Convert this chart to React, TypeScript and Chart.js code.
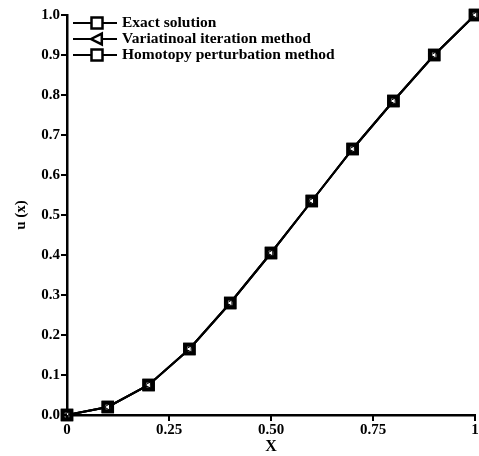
import React, { useEffect, useRef } from "react";
import { Chart, registerables } from "chart.js";

Chart.register(...registerables);

const xValues = [0, 0.1, 0.2, 0.3, 0.4, 0.5, 0.6, 0.7, 0.8, 0.9, 1.0];
const exactSolution = [0, 0.02, 0.075, 0.165, 0.28, 0.405, 0.535, 0.665, 0.785, 0.9, 1.0];
const vimValues = [0, 0.02, 0.075, 0.165, 0.28, 0.405, 0.535, 0.665, 0.785, 0.9, 1.0];
const hpmValues = [0, 0.02, 0.075, 0.165, 0.28, 0.405, 0.535, 0.665, 0.785, 0.9, 1.0];
const seriesLabels = ["Exact solution", "Variatinoal iteration method", "Homotopy perturbation method"];
const xTickLabels: Record<string, string> = { "0": "0", "0.25": "0.25", "0.5": "0.50", "0.75": "0.75", "1": "1" };

const FONT = "'Liberation Serif', 'DejaVu Serif', serif";

function drawSquare(ctx: CanvasRenderingContext2D, x: number, y: number, r: number) {
  ctx.save();
  ctx.fillStyle = "#fff";
  ctx.strokeStyle = "#000";
  ctx.lineWidth = 2.5;
  ctx.fillRect(x - r, y - r, 2 * r, 2 * r);
  ctx.strokeRect(x - r, y - r, 2 * r, 2 * r);
  ctx.restore();
}

function drawTriangle(ctx: CanvasRenderingContext2D, x: number, y: number, r: number) {
  ctx.save();
  ctx.fillStyle = "#fff";
  ctx.strokeStyle = "#000";
  ctx.lineWidth = 2.5;
  ctx.beginPath();
  ctx.moveTo(x - r, y);
  ctx.lineTo(x + r * 0.8, y - r * 0.9);
  ctx.lineTo(x + r * 0.8, y + r * 0.9);
  ctx.closePath();
  ctx.fill();
  ctx.stroke();
  ctx.restore();
}

const legendPlugin = {
  id: "customLegend",
  afterDraw(chart: any) {
    const ctx = chart.ctx as CanvasRenderingContext2D;
    const rows = [23, 39, 55];
    const kinds = ["square", "triangle", "square"];
    ctx.save();
    rows.forEach((y, i) => {
      ctx.strokeStyle = "#000";
      ctx.lineWidth = 2;
      ctx.beginPath();
      ctx.moveTo(73, y);
      ctx.lineTo(117, y);
      ctx.stroke();
      if (kinds[i] === "square") drawSquare(ctx, 97, y, 5.5);
      else drawTriangle(ctx, 97, y, 6);
      ctx.fillStyle = "#000";
      ctx.font = `bold 15.5px ${FONT}`;
      ctx.textAlign = "left";
      ctx.textBaseline = "middle";
      ctx.fillText(seriesLabels[i], 122, y);
    });
    ctx.restore();
  },
};

const tickMarksPlugin = {
  id: "tickMarks",
  afterDraw(chart: any) {
    const ctx = chart.ctx as CanvasRenderingContext2D;
    const xs = chart.scales.x;
    const ys = chart.scales.y;
    ctx.save();
    ctx.strokeStyle = "#000";
    ctx.lineWidth = 2;
    xs.ticks.forEach((t: any) => {
      const px = Math.round(xs.getPixelForValue(t.value));
      ctx.beginPath();
      ctx.moveTo(px, ys.bottom);
      ctx.lineTo(px, ys.bottom + 6);
      ctx.stroke();
    });
    ys.ticks.forEach((t: any) => {
      const py = Math.round(ys.getPixelForValue(t.value));
      ctx.beginPath();
      ctx.moveTo(xs.left, py);
      ctx.lineTo(xs.left - 6, py);
      ctx.stroke();
    });
    ctx.restore();
  },
};

export default function App() {
  const ref = useRef<HTMLCanvasElement>(null);
  useEffect(() => {
    if (!ref.current) return;
    const common = {
      borderColor: "#000",
      borderWidth: 2,
      pointBorderColor: "#000",
      pointBackgroundColor: "#fff",
      tension: 0,
      clip: false,
    };
    const chart = new Chart(ref.current, {
      type: "line",
      data: {
        datasets: [
          {
            ...common,
            label: seriesLabels[0],
            data: xValues.map((x, i) => ({ x, y: exactSolution[i] })),
            pointStyle: "rect",
            pointRadius: 6,
            pointBorderWidth: 4,
            order: 3,
          },
          {
            ...common,
            label: seriesLabels[1],
            data: xValues.map((x, i) => ({ x, y: vimValues[i] })),
            pointStyle: "triangle",
            pointRotation: -90,
            pointRadius: 3.5,
            pointBorderWidth: 1,
            order: 1,
          },
          {
            ...common,
            label: seriesLabels[2],
            data: xValues.map((x, i) => ({ x, y: hpmValues[i] })),
            pointStyle: "rect",
            pointRadius: 6,
            pointBorderWidth: 4,
            order: 2,
          },
        ] as any,
      },
      options: {
        animation: false,
        responsive: false,
        maintainAspectRatio: false,
        layout: { autoPadding: false, padding: { top: 15, right: 4, left: 12, bottom: 0 } },
        plugins: { legend: { display: false }, tooltip: { enabled: false } },
        scales: {
          x: {
            type: "linear",
            min: 0,
            max: 1,
            border: { color: "#000", width: 2.5 },
            grid: { display: false, drawTicks: false } as any,
            ticks: {
              stepSize: 0.25,
              color: "#000",
              font: { family: FONT, size: 15, weight: "bold" },
              padding: 6,
              maxRotation: 0,
              callback: (v: any) => xTickLabels[String(v)] ?? String(v),
            },
            title: {
              display: true,
              text: "X",
              color: "#000",
              font: { family: FONT, size: 16, weight: "bold" },
              padding: { top: -3, bottom: 0 },
            },
            afterFit: (s: any) => { s.height = 41; s.paddingRight = 0; s.paddingLeft = 0; },
          },
          y: {
            type: "linear",
            min: 0,
            max: 1,
            border: { color: "#000", width: 2.5 },
            grid: { display: false, drawTicks: false } as any,
            ticks: {
              stepSize: 0.1,
              color: "#000",
              font: { family: FONT, size: 15, weight: "bold" },
              padding: 7,
              callback: (v: any) => Number(v).toFixed(1),
            },
            title: {
              display: true,
              text: "u (x)",
              color: "#000",
              font: { family: FONT, size: 15, weight: "bold" },
              padding: { top: 0, bottom: 4 },
            },
            afterFit: (s: any) => { s.width = 55; s.paddingTop = 0; s.paddingBottom = 0; },
          },
        },
      } as any,
      plugins: [legendPlugin, tickMarksPlugin],
    });
    return () => chart.destroy();
  }, []);
  return (
    <div style={{ position: "absolute", left: 0, top: 0, width: 479, height: 456, background: "#fff" }}>
      <canvas ref={ref} width={479} height={456} style={{ width: 479, height: 456 }} />
    </div>
  );
}
